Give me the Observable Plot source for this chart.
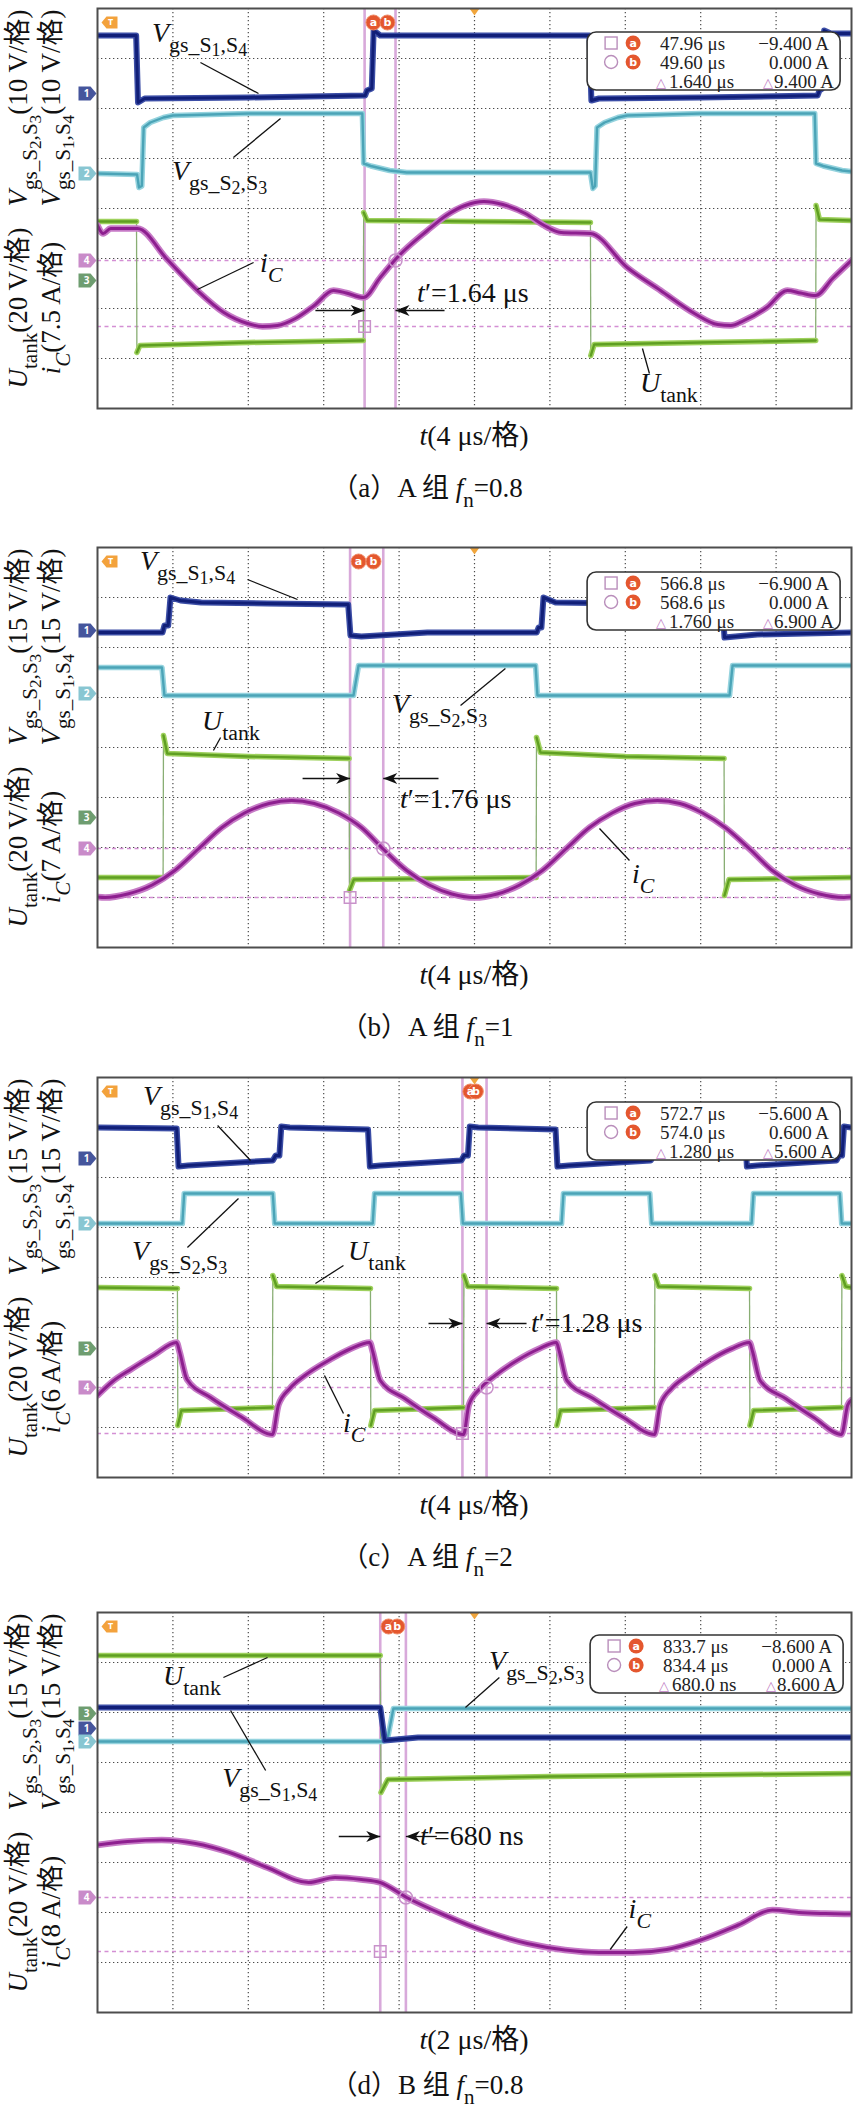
<!DOCTYPE html>
<html><head><meta charset="utf-8">
<script src="https://cdn.jsdelivr.net/npm/d3@7"></script>
<script src="https://cdn.jsdelivr.net/npm/@observablehq/plot@0.6"></script>
<style>
body{margin:0;background:#fff;}
#root{width:854px;}
#root svg{display:block;overflow:visible;}
</style></head><body><div id="root"></div>
<script>
// ---------------- shared ----------------
const FONT = '"Liberation Serif","Times New Roman","Noto Sans CJK SC",serif';
const Y_GRID = [1,2,3,4,5,6,7];
const X_GRID_4US = [4,8,12,16,20,24,28,32,36];
const X_GRID_2US = [2,4,6,8,10,12,14,16,18];
const CH_NAMES = ["1","2","3","4"];
const CH_COLORS = ["#45559c","#88c6d2","#6e9d70","#c98bc9"];

// label fragments: [text, level(0 normal,1 sub,2 subsub), italic]
const VS14 = [["V",0,1],["gs_S",1,0],["1",2,0],[",S",1,0],["4",2,0]];
const VS23 = [["V",0,1],["gs_S",1,0],["2",2,0],[",S",1,0],["3",2,0]];
const UTANK = [["U",0,1],["tank",1,0]];
const IC = [["i",0,1],["C",1,1]];

// ---------------- panel (a) ----------------
const A_blue = [[0,7.46],[2.05,7.46],[2.15,6.12],[2.5,6.2],[8,6.22],[14.2,6.26],[14.3,6.36],[14.55,6.4],[14.65,7.56],[15.0,7.46],[26.1,7.46],[26.2,6.16],[26.6,6.2],[32,6.22],[38.2,6.26],[38.3,6.36],[38.45,6.4],[38.55,7.56],[38.9,7.5],[40,7.5]];
const A_cyan = [[0,4.7],[2.1,4.68],[2.2,4.42],[2.35,4.45],[2.45,5.62],[2.8,5.72],[3.5,5.82],[4.0,5.86],[8,5.9],[14.05,5.9],[14.12,4.9],[14.5,4.85],[15.5,4.76],[16.4,4.72],[26.15,4.72],[26.28,4.4],[26.4,4.45],[26.5,5.62],[26.9,5.72],[27.6,5.82],[28.1,5.86],[32,5.9],[38.05,5.9],[38.12,4.9],[38.5,4.85],[39.5,4.76],[40,4.74]];
const A_green = [
  [[0,3.74],[2.07,3.74]],
  [[2.09,1.12],[2.25,1.26],[8,1.32],[14.1,1.36]],
  [[14.12,3.92],[14.3,3.76],[20,3.74],[26.15,3.72]],
  [[26.17,1.06],[26.35,1.28],[32,1.32],[38.1,1.36]],
  [[38.12,4.06],[38.3,3.78],[40,3.76]]
];
const A_iC = [[0,3.66],[0.3,3.5],[0.7,3.6],[2.12,3.6],[3.7,2.98],[5.3,2.36],[6.7,1.92],[7.96,1.7],[8.75,1.64],[9.55,1.66],[10.5,1.8],[11.5,2.06],[12.52,2.36],[13.2,2.31],[14.11,2.22],[15.0,2.62],[15.9,3.02],[17.5,3.56],[18.5,3.86],[19.5,4.06],[20.5,4.14],[21.5,4.08],[22.7,3.9],[23.7,3.66],[24.0,3.6],[24.6,3.52],[26.15,3.5],[28.1,2.82],[29.87,2.36],[31.67,1.9],[32.9,1.68],[33.6,1.66],[34.3,1.76],[35.5,2.02],[36.6,2.36],[37.3,2.31],[38.09,2.26],[39.0,2.6],[40,2.96]];
const A_tags = [6.3, 4.7, 2.56, 2.96];
const A_cursors = [14.17, 15.81];
const A_levels = [1.64, 2.96];
const A_ab = [14.64, 15.38];
const A_box = ["47.96 μs","−9.400 A","49.60 μs","0.000 A","1.640 μs","9.400 A"];
const A_leaders = [[5.46,6.92,8.54,6.3],[7.21,5.02,9.71,5.8],[8.28,2.92,5.3,2.38],[29.28,0.7,28.91,1.2]];

// ---------------- panel (b) ----------------
const B_blue = [[0,6.3],[3.45,6.3],[3.55,6.44],[3.75,6.44],[3.87,7.0],[4.4,6.94],[5.5,6.9],[9,6.88],[13.3,6.86],[13.42,6.24],[14,6.22],[17.5,6.3],[23.3,6.3],[23.4,6.4],[23.55,6.4],[23.66,7.0],[24.3,6.9],[28,6.88],[33.16,6.86],[33.26,6.2],[35,6.26],[40,6.3]];
const B_cyan = [[0,5.6],[3.42,5.6],[3.55,5.04],[13.58,5.04],[13.85,5.64],[23.24,5.64],[23.34,5.04],[33.53,5.04],[33.69,5.64],[40,5.64]];
const B_green = [
  [[0,1.4],[3.48,1.4]],
  [[3.5,4.24],[3.7,3.88],[8,3.82],[13.35,3.78]],
  [[13.37,1.14],[13.6,1.36],[18,1.38],[23.27,1.4]],
  [[23.29,4.2],[23.5,3.9],[28,3.82],[33.24,3.78]],
  [[33.26,1.04],[33.5,1.36],[40,1.4]]
];
const B_iC = [[0,1.01],[0.4,1.0],[1.6,1.07],[2.9,1.25],[4.1,1.54],[5.35,1.97],[6.6,2.4],[7.8,2.69],[9.1,2.88],[10.3,2.94],[11.5,2.88],[12.8,2.69],[14.0,2.4],[15.15,1.97],[16.4,1.54],[17.6,1.25],[18.8,1.07],[20.0,1.0],[21.2,1.07],[22.4,1.25],[23.6,1.54],[24.85,1.97],[26.1,2.4],[27.3,2.69],[28.5,2.88],[29.7,2.94],[30.9,2.88],[32.1,2.69],[33.3,2.4],[34.6,1.97],[35.8,1.54],[37.0,1.25],[38.3,1.07],[39.6,1.0],[40,1.01]];
const B_tags = [6.34, 5.08, 2.6, 1.98];
const B_cursors = [13.4, 15.16];
const B_levels = [1.0, 1.98];
const B_ab = [13.85, 14.64];
const B_box = ["566.8 μs","−6.900 A","568.6 μs","0.000 A","1.760 μs","6.900 A"];
const B_leaders = [[7.96,7.36,10.61,6.96],[6.53,4.2,6.15,3.94],[19.26,4.84,21.64,5.58],[28.22,1.74,26.63,2.38]];

// ---------------- panel (c) ----------------
const C_blue = [[0,7.0],[4.2,6.98],[4.3,6.22],[4.8,6.24],[9.3,6.34],[9.45,6.44],[9.65,6.44],[9.75,7.02],[10.2,7.0],[14.35,6.96],[14.45,6.22],[15,6.24],[19.3,6.34],[19.45,6.44],[19.65,6.44],[19.75,7.02],[20.2,7.0],[24.3,6.96],[24.4,6.22],[25,6.24],[29.35,6.34],[29.5,6.44],[29.7,6.44],[29.8,7.02],[30.2,7.0],[34.35,6.96],[34.45,6.22],[35,6.24],[39.2,6.34],[39.35,6.44],[39.5,6.44],[39.6,7.02],[40,7.0]];
const C_cyan = [[0,5.08],[4.5,5.08],[4.6,5.68],[9.3,5.68],[9.4,5.08],[14.6,5.08],[14.7,5.68],[19.28,5.68],[19.38,5.08],[24.62,5.08],[24.72,5.68],[29.3,5.68],[29.4,5.08],[34.7,5.08],[34.8,5.68],[39.38,5.68],[39.48,5.08],[40,5.08]];
const C_green = [
  [[0,3.8],[4.24,3.78]],
  [[4.26,1.04],[4.45,1.34],[9.28,1.4]],
  [[9.3,4.04],[9.5,3.82],[14.48,3.78]],
  [[14.5,1.04],[14.7,1.34],[19.42,1.4]],
  [[19.44,4.04],[19.64,3.82],[24.35,3.78]],
  [[24.37,1.04],[24.57,1.34],[29.55,1.4]],
  [[29.57,4.04],[29.77,3.82],[34.59,3.78]],
  [[34.61,1.04],[34.81,1.34],[39.47,1.4]],
  [[39.49,4.04],[39.69,3.82],[40,3.8]]
];
const C_iC = [[0,1.64],[0.8,1.92],[1.8,2.17],[3.0,2.45],[4.2,2.7],[4.35,2.52],[4.75,1.96],[6.0,1.6],[7.6,1.22],[9.28,0.86],[9.6,1.45],[10.2,1.78],[11.0,2.04],[12.3,2.35],[13.4,2.57],[14.45,2.7],[14.6,2.52],[15.0,1.94],[16.3,1.58],[17.8,1.2],[19.42,0.86],[19.7,1.45],[20.3,1.78],[21.1,2.04],[22.3,2.35],[23.4,2.57],[24.35,2.7],[24.5,2.52],[24.9,1.94],[26.3,1.58],[27.9,1.2],[29.55,0.86],[29.85,1.45],[30.45,1.78],[31.3,2.04],[32.5,2.35],[33.6,2.57],[34.59,2.7],[34.75,2.52],[35.15,1.94],[36.5,1.58],[38.0,1.2],[39.47,0.86],[39.8,1.45],[40,1.55]];
const C_tags = [6.38, 5.08, 2.58, 1.8];
const C_cursors = [19.36, 20.64];
const C_levels = [0.88, 1.8];
const C_ab = [19.78, 20.07];
const C_box = ["572.7 μs","−5.600 A","574.0 μs","0.600 A","1.280 μs","5.600 A"];
const C_leaders = [[6.37,7.04,8.12,6.34],[4.77,4.6,7.48,5.58],[13.05,4.24,11.56,3.88],[13.05,1.28,12.04,2.04]];

// ---------------- panel (d) ----------------
const D_blue = [[0,6.1],[7.5,6.1],[7.62,5.44],[8.5,5.5],[20,5.5]];
const D_cyan = [[0,5.42],[7.56,5.42],[7.7,5.5],[7.85,6.08],[20,6.08]];
const D_green = [
  [[0,7.14],[7.5,7.14]],
  [[7.52,4.4],[7.7,4.66],[12,4.72],[20,4.78]]
];
const D_iC = [[0,3.35],[0.8,3.42],[1.7,3.45],[2.6,3.38],[3.5,3.2],[4.5,2.9],[5.6,2.6],[6.3,2.7],[7.0,2.66],[7.5,2.6],[8.2,2.3],[9.2,1.95],[10.3,1.62],[11.4,1.38],[12.4,1.25],[13.3,1.2],[14.2,1.2],[15.1,1.26],[16.0,1.45],[17.0,1.75],[17.9,2.05],[18.6,2.0],[19.3,1.98],[20,1.97]];
const D_tags = [5.68, 5.42, 5.98, 2.3];
const D_cursors = [7.5, 8.18];
const D_levels = [1.22, 2.3];
const D_ab = [7.72, 7.95];
const D_box = ["833.7 μs","−8.600 A","834.4 μs","0.000 A","680.0 ns","8.600 A"];
const D_leaders = [[3.34,6.7,4.51,7.1],[4.46,4.84,3.53,6.04],[10.66,6.7,9.76,6.1],[14.05,1.72,13.6,1.26]];

// ---------------- helpers ----------------
const SYM_TAG = {draw(c){c.moveTo(-9,-7);c.lineTo(3,-7);c.lineTo(9,0);c.lineTo(3,7);c.lineTo(-9,7);c.closePath();}};
const SYM_TTAG = {draw(c){c.moveTo(-8,0);c.lineTo(-3,-6);c.lineTo(8,-6);c.lineTo(8,6);c.lineTo(-3,6);c.closePath();}};
const SYM_TRIG = {draw(c){c.moveTo(-5,0);c.lineTo(5,0);c.lineTo(0,7);c.closePath();}};
const SYM_AR = {draw(c){c.moveTo(0,0);c.lineTo(-14,-5.5);c.lineTo(-10,0);c.lineTo(-14,5.5);c.closePath();}};
const SYM_AL = {draw(c){c.moveTo(0,0);c.lineTo(14,-5.5);c.lineTo(10,0);c.lineTo(14,5.5);c.closePath();}};
const LV = [{dy:0,s:1},{dy:0.36,s:0.78},{dy:0.5,s:0.64}];

function rich(g, parts, size, anchor, attrs) {
  const t = g.append("text").attr("font-family", FONT).attr("font-size", size)
    .attr("fill", "#111").attr("text-anchor", anchor || "start");
  for (const k in attrs) t.attr(k, attrs[k]);
  let cur = 0;
  for (const [s, lv, it] of parts) {
    const sp = t.append("tspan").attr("font-size", (size*LV[lv].s).toFixed(2))
      .attr("font-style", it ? "italic" : "normal");
    const dy = (LV[lv].dy - LV[cur].dy) * size;
    if (dy) sp.attr("dy", dy.toFixed(2));
    sp.text(s);
    cur = lv;
  }
  return t;
}

function boxText(g, x, y, s, anchor, extra) {
  const t = g.append("text").attr("x", x).attr("y", y).attr("text-anchor", anchor)
    .attr("font-family", FONT).attr("font-size", 19).attr("fill", "#222").text(s);
  if (extra) for (const k in extra) t.attr(k, extra[k]);
  return t;
}

function drawBox(svg, bx, by, vals) {
  const g = svg.append("g");
  g.append("rect").attr("x", bx).attr("y", by).attr("width", 253).attr("height", 58).attr("rx", 9)
    .attr("fill", "white").attr("stroke", "#333").attr("stroke-width", 1.6);
  g.append("rect").attr("x", bx+18).attr("y", by+5).attr("width", 12).attr("height", 12)
    .attr("fill", "none").attr("stroke", "#b98ebb").attr("stroke-width", 1.4);
  g.append("circle").attr("cx", bx+24).attr("cy", by+30).attr("r", 6.5)
    .attr("fill", "none").attr("stroke", "#b98ebb").attr("stroke-width", 1.4);
  [["a",11],["b",30]].forEach(([l, cy]) => {
    g.append("circle").attr("cx", bx+46).attr("cy", by+cy).attr("r", 7.5).attr("fill", "#e4572e");
    g.append("text").attr("x", bx+46).attr("y", by+cy+4).attr("text-anchor", "middle")
      .attr("font-family", "DejaVu Sans").attr("font-size", 11).attr("font-weight", "bold")
      .attr("fill", "white").text(l);
  });
  boxText(g, bx+73, by+18, vals[0], "start");
  boxText(g, bx+242, by+18, vals[1], "end");
  boxText(g, bx+73, by+37, vals[2], "start");
  boxText(g, bx+242, by+37, vals[3], "end");
  boxText(g, bx+69, by+55, "△", "start", {"font-size": 13, fill: "#c07cc4", "font-family": "DejaVu Sans"});
  boxText(g, bx+82, by+56, vals[4], "start");
  boxText(g, bx+176, by+55, "△", "start", {"font-size": 13, fill: "#c07cc4", "font-family": "DejaVu Sans"});
  boxText(g, bx+247, by+56, vals[5], "end");
}

const pts = arr => arr.map(([t, v]) => ({t, v}));

function drawPanel(cfg) {
  const green = cfg.green.flatMap((seg, i) => seg.map(([t, v]) => ({t, v, seg: i})));
  const edges = cfg.green.slice(1).map((seg, i) => {
    const a = cfg.green[i][cfg.green[i].length - 1], b = seg[0];
    return {x1: a[0], y1: a[1], x2: b[0], y2: b[1]};
  });
  const tags = cfg.tags.map((v, i) => ({v, ch: CH_NAMES[i], color: CH_COLORS[i]}));
  const leaders = cfg.leaders.map(([x1, y1, x2, y2]) => ({x1, y1, x2, y2}));
  const ar = cfg.arrow;
  const arrowLines = [
    {x1: ar.left, x2: cfg.cursors[0], y: ar.v},
    {x1: ar.right, x2: cfg.cursors[1], y: ar.v}
  ];
  const blue = pts(cfg.blue), cyan = pts(cfg.cyan), ic = pts(cfg.iC);
  const ab = cfg.ab.map((t, i) => ({t, l: "ab"[i]}));
  const frameBottom = cfg.top + 400;

  const plot = Plot.plot({
    width: 854, height: cfg.height,
    marginLeft: 97, marginRight: 3, marginTop: cfg.top, marginBottom: cfg.height - cfg.top - 400,
    x: {domain: [0, cfg.tMax], axis: null},
    y: {domain: [0, 8], axis: null},
    style: {background: "white", overflow: "visible"},
    marks: [
      Plot.ruleX(cfg.xGrid, {stroke: "#4a4a4a", strokeWidth: 1.2, strokeDasharray: "1.3,2.7"}),
      Plot.ruleY(Y_GRID, {stroke: "#4a4a4a", strokeWidth: 1.2, strokeDasharray: "1.3,2.7"}),
      Plot.ruleY(cfg.levels, {stroke: "#d48fd4", strokeWidth: 1.7, strokeDasharray: "4,3.5"}),
      Plot.ruleX(cfg.cursors, {stroke: "#d8a9da", strokeWidth: 2.6}),
      // U_tank (green)
      Plot.link(edges, {x1: "x1", y1: "y1", x2: "x2", y2: "y2", stroke: "#89ae74", strokeWidth: 1.3, clip: true}),
      Plot.line(green, {x: "t", y: "v", z: "seg", stroke: "#9fd15e", strokeWidth: 5.5, clip: true}),
      Plot.line(green, {x: "t", y: "v", z: "seg", stroke: "#5f9f22", strokeWidth: 2.4, clip: true}),
      // Vgs S2,S3 (cyan)
      Plot.line(cyan, {x: "t", y: "v", stroke: "#95d3de", strokeWidth: 5.5, clip: true}),
      Plot.line(cyan, {x: "t", y: "v", stroke: "#4ba4b7", strokeWidth: 2.4, clip: true}),
      // Vgs S1,S4 (blue)
      Plot.line(blue, {x: "t", y: "v", stroke: "#3c4ea6", strokeWidth: 6, clip: true}),
      Plot.line(blue, {x: "t", y: "v", stroke: "#111f78", strokeWidth: 3, clip: true}),
      // iC (purple)
      Plot.line(ic, {x: "t", y: "v", stroke: "#c67ac6", strokeWidth: 6.5, curve: "monotone-x", clip: true}),
      Plot.line(ic, {x: "t", y: "v", stroke: "#8d1f8f", strokeWidth: 3, curve: "monotone-x", clip: true}),
      // cursor markers
      Plot.dot([{t: cfg.cursors[0], v: cfg.levels[0]}], {x: "t", y: "v", symbol: "square", r: 6.5, stroke: "#c892ca", strokeWidth: 1.5, fill: "none"}),
      Plot.dot([{t: cfg.cursors[1], v: cfg.levels[1]}], {x: "t", y: "v", symbol: "circle", r: 6.5, stroke: "#c892ca", strokeWidth: 1.5, fill: "none"}),
      // channel tags
      Plot.dot(tags, {x: () => 0, y: "v", dx: -10, symbol: SYM_TAG, fill: "color"}),
      Plot.text(tags, {x: () => 0, y: "v", dx: -11, text: "ch", fill: "white", fontSize: 10, fontWeight: "bold"}),
      // trigger & top markers
      Plot.dot([0], {x: () => 0, y: () => 8, dx: 12, dy: 14, symbol: SYM_TTAG, fill: "#f3a23c"}),
      Plot.text([0], {x: () => 0, y: () => 8, dx: 13, dy: 14, text: () => "T", fill: "white", fontSize: 9, fontWeight: "bold"}),
      Plot.dot(ab, {x: "t", y: () => 8, dy: 14, r: 7.5, fill: "#e4572e", stroke: "#f08a66", strokeWidth: 1}),
      Plot.text(ab, {x: "t", y: () => 8, dy: 14, text: "l", fill: "white", fontSize: 11, fontWeight: "bold", fontFamily: "DejaVu Sans"}),
      Plot.dot([cfg.trig], {x: d => d, y: () => 8, symbol: SYM_TRIG, fill: "#f0a53c"}),
      // annotation leaders and t' arrows
      Plot.link(leaders, {x1: "x1", y1: "y1", x2: "x2", y2: "y2", stroke: "#111", strokeWidth: 1.3}),
      Plot.link(arrowLines, {x1: "x1", x2: "x2", y1: "y", y2: "y", stroke: "#111", strokeWidth: 1.3}),
      Plot.dot([{t: cfg.cursors[0], v: ar.v}], {x: "t", y: "v", symbol: SYM_AR, fill: "#111"}),
      Plot.dot([{t: cfg.cursors[1], v: ar.v}], {x: "t", y: "v", symbol: SYM_AL, fill: "#111"}),
      Plot.frame({stroke: "#4d4d4d", strokeWidth: 2})
    ]
  });

  const sx = plot.scale("x"), sy = plot.scale("y");
  const svg = d3.select(plot);
  for (const lab of cfg.labels) {
    rich(svg, lab.parts, 28, "start", {x: sx.apply(lab.t).toFixed(1), y: sy.apply(lab.v).toFixed(1)});
  }
  drawBox(svg, sx.apply(cfg.box[0]), sy.apply(cfg.box[1]), cfg.boxVals);
  const yl = cfg.ylabels;
  rich(svg, VS23.concat([[`(${yl[0]})`,0,0]]), 27, "middle", {transform: `translate(27,${cfg.top+100}) rotate(-90)`});
  rich(svg, VS14.concat([[`(${yl[0]})`,0,0]]), 27, "middle", {transform: `translate(60,${cfg.top+100}) rotate(-90)`});
  rich(svg, UTANK.concat([[`(${yl[1]})`,0,0]]), 27, "middle", {transform: `translate(27,${cfg.top+300}) rotate(-90)`});
  rich(svg, IC.concat([[`(${yl[2]})`,0,0]]), 27, "middle", {transform: `translate(60,${cfg.top+300}) rotate(-90)`});
  rich(svg, [["t",0,1],[`(${cfg.xlabel})`,0,0]], 28, "middle", {x: 474, y: frameBottom + 37});
  rich(svg, cfg.caption, 27, "middle", {x: 427, y: frameBottom + cfg.capGap});
  document.getElementById("root").appendChild(plot);
}

const tp = s => [["t",0,1],["′=" + s,0,0]];

drawPanel({
  height: 520, top: 8, tMax: 40, xGrid: X_GRID_4US, trig: 20, capGap: 89,
  blue: A_blue, cyan: A_cyan, green: A_green, iC: A_iC,
  tags: A_tags, cursors: A_cursors, levels: A_levels, ab: A_ab,
  box: [26, 7.52], boxVals: A_box, leaders: A_leaders,
  arrow: {v: 1.96, left: 11.56, right: 18.41},
  labels: [
    {parts: VS14, t: 2.92, v: 7.32},
    {parts: VS23, t: 3.98, v: 4.56},
    {parts: IC, t: 8.65, v: 2.72},
    {parts: tp("1.64 μs"), t: 16.98, v: 2.12},
    {parts: UTANK, t: 28.8, v: 0.32}
  ],
  ylabels: ["10 V/格", "20 V/格", "7.5 A/格"], xlabel: "4 μs/格",
  caption: [["（a）A 组 ",0,0],["f",0,1],["n",1,0],["=0.8",0,0]]
});
drawPanel({
  height: 530, top: 27, tMax: 40, xGrid: X_GRID_4US, trig: 20, capGap: 89,
  blue: B_blue, cyan: B_cyan, green: B_green, iC: B_iC,
  tags: B_tags, cursors: B_cursors, levels: B_levels, ab: B_ab,
  box: [26, 7.5], boxVals: B_box, leaders: B_leaders,
  arrow: {v: 3.38, left: 10.88, right: 18.09},
  labels: [
    {parts: VS14, t: 2.28, v: 7.54},
    {parts: UTANK, t: 5.57, v: 4.34},
    {parts: VS23, t: 15.65, v: 4.68},
    {parts: tp("1.76 μs"), t: 16.07, v: 2.78},
    {parts: IC, t: 28.38, v: 1.28}
  ],
  ylabels: ["15 V/格", "20 V/格", "7 A/格"], xlabel: "4 μs/格",
  caption: [["（b）A 组 ",0,0],["f",0,1],["n",1,0],["=1",0,0]]
});
drawPanel({
  height: 530, top: 27, tMax: 40, xGrid: X_GRID_4US, trig: 20, capGap: 89,
  blue: C_blue, cyan: C_cyan, green: C_green, iC: C_iC,
  tags: C_tags, cursors: C_cursors, levels: C_levels, ab: C_ab,
  box: [26, 7.5], boxVals: C_box, leaders: C_leaders,
  arrow: {v: 3.08, left: 17.56, right: 22.76},
  labels: [
    {parts: VS14, t: 2.44, v: 7.44},
    {parts: VS23, t: 1.86, v: 4.34},
    {parts: UTANK, t: 13.32, v: 4.34},
    {parts: tp("1.28 μs"), t: 23.02, v: 2.9},
    {parts: IC, t: 13.05, v: 0.9}
  ],
  ylabels: ["15 V/格", "20 V/格", "6 A/格"], xlabel: "4 μs/格",
  caption: [["（c）A 组 ",0,0],["f",0,1],["n",1,0],["=2",0,0]]
});
drawPanel({
  height: 527, top: 32, tMax: 20, xGrid: X_GRID_2US, trig: 10, capGap: 82,
  blue: D_blue, cyan: D_cyan, green: D_green, iC: D_iC,
  tags: D_tags, cursors: D_cursors, levels: D_levels, ab: D_ab,
  box: [13.08, 7.54], boxVals: D_box, leaders: D_leaders,
  arrow: {v: 3.52, left: 6.4, right: 9.0},
  labels: [
    {parts: UTANK, t: 1.75, v: 6.54},
    {parts: VS14, t: 3.32, v: 4.5},
    {parts: VS23, t: 10.4, v: 6.84},
    {parts: tp("680 ns"), t: 8.57, v: 3.34},
    {parts: IC, t: 14.1, v: 1.88}
  ],
  ylabels: ["15 V/格", "20 V/格", "8 A/格"], xlabel: "2 μs/格",
  caption: [["（d）B 组 ",0,0],["f",0,1],["n",1,0],["=0.8",0,0]]
});
</script></body></html>
